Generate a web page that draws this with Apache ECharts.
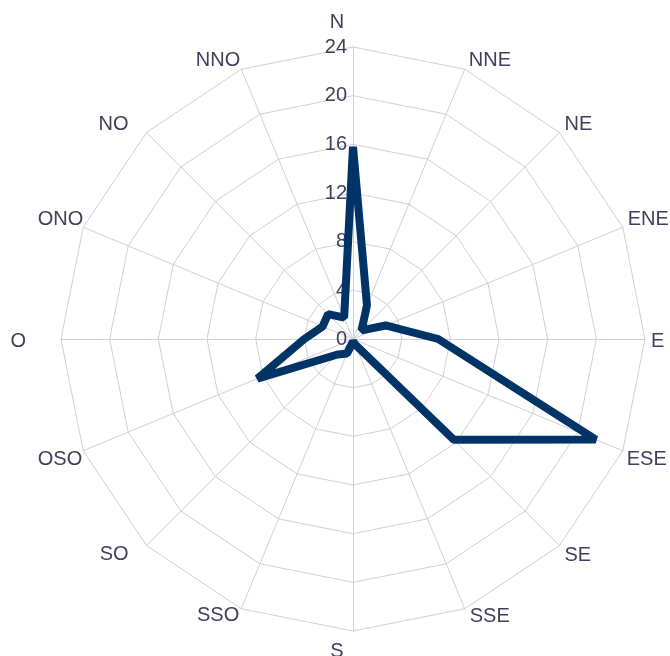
<!DOCTYPE html>
<html>
<head>
<meta charset="utf-8">
<script src="https://cdn.jsdelivr.net/npm/echarts@6/dist/echarts.min.js"></script>
<style>
  html, body { margin: 0; padding: 0; background: #ffffff; }
  #chart { width: 670px; height: 656px; }
</style>
</head>
<body>
<div id="chart"></div>
<script>
// Wind directions, clockwise from north
const directions = ['N', 'NNE', 'NE', 'ENE', 'E', 'ESE', 'SE', 'SSE',
                    'S', 'SSO', 'SO', 'OSO', 'O', 'ONO', 'NO', 'NNO'];
// Frequency per direction
const frequency = [15.8, 3.0, 1.0, 2.9, 7.0, 21.6, 11.7, 0.5,
                   0.2, 1.3, 1.8, 8.5, 4.0, 2.7, 2.9, 1.9];
// Radial scale
const scaleMax = 24;
const scaleStep = 4;

const textColor = '#40405c';
const gridColor = '#cfcfdc';
const fontFamily = 'Liberation Sans, Arial, sans-serif';

// Padding [top, right, bottom, left] that nudges each direction name
// away from the end of its spoke.
const namePadding = {
  N:   [0, 32, 15, 0],
  NNE: [0, 0, 18, 4],
  NE:  [0, 0, 16, 5],
  ENE: [0, 0, 16, 5],
  E:   [4, 0, 0, 6],
  ESE: [18, 0, 0, 4],
  SE:  [20, 0, 0, 5],
  SSE: [16, 0, 0, 5],
  S:   [10, 32, 0, 0],
  SSO: [14, 2, 0, 0],
  SO:  [18, 18, 0, 0],
  OSO: [18, 1, 0, 0],
  O:   [4, 35, 0, 0],
  ONO: [0, 0, 16, 0],
  NO:  [0, 18, 16, 0],
  NNO: [0, 1, 18, 0]
};

const nameRich = {};
directions.forEach(function (d) {
  nameRich[d] = {
    color: textColor,
    fontSize: 20,
    fontFamily: fontFamily,
    padding: namePadding[d]
  };
});

// The radar coordinate system runs counter-clockwise, so keep N first
// and list the remaining directions in reverse to lay them out clockwise.
function clockwiseOrder(arr) {
  return [arr[0]].concat(arr.slice(1).reverse());
}

const orderedNames = clockwiseOrder(directions);
const orderedValues = clockwiseOrder(frequency);

const chart = echarts.init(document.getElementById('chart'), null, { renderer: 'canvas' });

const indicators = orderedNames.map(function (name, i) {
  const ind = { name: name, min: 0, max: scaleMax };
  if (i === 0) {
    ind.axisLabel = { show: true };
  }
  return ind;
});

chart.setOption({
  animation: false,
  backgroundColor: '#ffffff',
  radar: {
    center: [353, 339],
    radius: 292,
    startAngle: 90,
    shape: 'polygon',
    splitNumber: scaleMax / scaleStep,
    indicator: indicators,
    axisName: {
      color: textColor,
      fontSize: 20,
      fontFamily: fontFamily,
      formatter: function (name) { return '{' + name + '|' + name + '}'; },
      rich: nameRich
    },
    nameGap: 0,
    axisLine: { show: true, lineStyle: { color: gridColor, width: 1 } },
    splitLine: { show: true, lineStyle: { color: gridColor, width: 1 } },
    splitArea: { show: false },
    axisTick: { show: false },
    axisLabel: {
      show: false,
      color: textColor,
      fontSize: 20,
      fontFamily: fontFamily,
      margin: 6,
      formatter: function (v) { return String(v); }
    }
  },
  series: [{
    type: 'radar',
    symbol: 'none',
    lineStyle: { color: '#003366', width: 8, join: 'bevel' },
    data: [{ value: orderedValues, name: 'Fréquence' }]
  }]
});
</script>
</body>
</html>
